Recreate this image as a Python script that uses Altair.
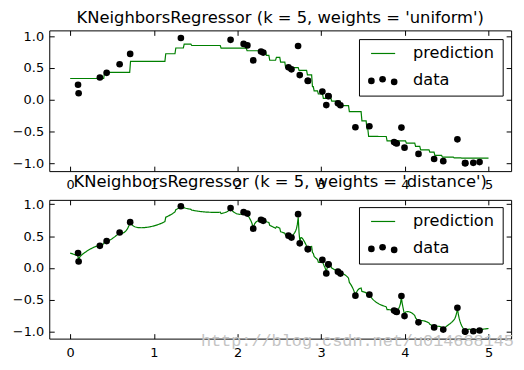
import altair as alt
import numpy as np
import pandas as pd

# data points
X = [0.094, 0.101, 0.355, 0.436, 0.591, 0.717, 1.323, 1.917, 2.073, 2.118,
     2.188, 2.281, 2.307, 2.609, 2.645, 2.724, 2.744, 2.840, 2.842, 3.014,
     3.061, 3.085, 3.088, 3.200, 3.230, 3.409, 3.576, 3.871, 3.891, 3.903,
     3.959, 3.996, 4.163, 4.350, 4.459, 4.628, 4.719, 4.723, 4.818, 4.893]
Y = [0.234, 0.101, 0.348, 0.422, 0.557, 0.720, 0.970, 0.941, 0.877, 0.854,
     0.618, 0.758, 0.741, 0.508, 0.477, 0.845, 0.387, 0.297, 0.295, 0.127,
     -0.086, 0.057, 0.053, -0.058, -0.088, -0.435, -0.419, -0.668, -0.683, -0.691,
     -0.440, -0.756, -0.854, -0.934, -0.968, -0.625, -1.000, -1.000, -0.994, -0.983]

K = 5
TITLES = ["KNeighborsRegressor (k = 5, weights = 'uniform')",
          "KNeighborsRegressor (k = 5, weights = 'distance')"]
X_TICKS = [0, 1, 2, 3, 4, 5]
Y_TICKS = [-1.0, -0.5, 0.0, 0.5, 1.0]
WATERMARK = "http://blog.csdn.net/u014688145"

# k-nearest-neighbour predictions on a grid
xa = np.array(X)
ya = np.array(Y)
T = np.linspace(0, 5, 500)
pred_u, pred_d = [], []
for t in T:
    d = np.abs(xa - t)
    idx = np.argsort(d, kind="stable")[:K]
    pred_u.append(ya[idx].mean())
    dd = d[idx]
    if np.any(dd == 0):
        pred_d.append(ya[idx][dd == 0].mean())
    else:
        w = 1.0 / dd
        pred_d.append(np.sum(w * ya[idx]) / np.sum(w))

pts = pd.DataFrame({"x": X, "y": Y})
one = pd.DataFrame({"a": [0]})

W = 466
XDOM = [-0.25, 5.27]


def panel(title, pred, ydom, h, toff, ldy, watermark=False):
    line_df = pd.DataFrame({"x": T, "y": pred})
    xs = alt.Scale(domain=XDOM, nice=False, zero=False)
    ys = alt.Scale(domain=ydom, nice=False, zero=False)
    line = alt.Chart(line_df).mark_line(color="#008000", strokeWidth=1.2).encode(
        x=alt.X("x:Q", scale=xs, title=None,
                axis=alt.Axis(values=X_TICKS, format="d", orient="bottom", labelPadding=8)),
        y=alt.Y("y:Q", scale=ys, title=None,
                axis=alt.Axis(values=Y_TICKS, format=".1f", orient="left", labelPadding=5.7)),
    )
    dots = alt.Chart(pts).mark_circle(color="black", opacity=1, size=45).encode(
        x=alt.X("x:Q", scale=xs, title=None,
                axis=alt.Axis(values=X_TICKS, orient="top", labels=False)),
        y=alt.Y("y:Q", scale=ys, title=None,
                axis=alt.Axis(values=Y_TICKS, orient="right", labels=False)),
    )
    layers = [line, dots]
    # legend box
    layers.append(alt.Chart(one).mark_rect(fill="white", stroke="black", strokeWidth=1).encode(
        x=alt.value(313), x2=alt.value(458), y=alt.value(9.3 + ldy), y2=alt.value(66.3 + ldy)))
    layers.append(alt.Chart(one).mark_rule(color="#008000", strokeWidth=1.2).encode(
        x=alt.value(324.7), x2=alt.value(349), y=alt.value(23.3 + ldy)))
    for dx, dy in [(325, 51), (336.3, 49.3), (348, 52)]:
        layers.append(alt.Chart(one).mark_circle(color="black", opacity=1, size=45).encode(
            x=alt.value(dx), y=alt.value(dy + ldy)))
    for txt, ty in [("prediction", 23.3), ("data", 50)]:
        layers.append(alt.Chart(one).mark_text(
            text=txt, align="left", baseline="middle", font="DejaVu Sans",
            fontSize=16.3, color="black").encode(x=alt.value(367), y=alt.value(ty + ldy)))
    if watermark:
        layers.append(alt.Chart(one).mark_text(
            text=WATERMARK, align="left", baseline="alphabetic", font="Liberation Mono",
            fontSize=17, color="#c4c4c4").encode(x=alt.value(153), y=alt.value(147)))
    return alt.layer(*layers).resolve_scale(x="independent", y="independent").resolve_axis(
        x="independent", y="independent").properties(
        width=W, height=h,
        title=alt.TitleParams(title, fontSize=16.5, font="DejaVu Sans", fontWeight="normal",
                              color="black", offset=toff, anchor="middle"))


top = panel(TITLES[0], pred_u, [-1.125, 1.09], 142, 3, 0)
bottom = panel(TITLES[1], pred_d, [-1.11, 1.07], 140, 8, -1.5, watermark=True)

chart = alt.vconcat(top, bottom, spacing=29, bounds="flush").properties(
    padding={"left": 11.7, "top": 8, "right": 9, "bottom": 8},
    background="white",
).configure_view(stroke="black", strokeWidth=1).configure_axis(
    grid=False, domain=False, ticks=True, tickColor="black", tickSize=5, tickWidth=1,
    offset=-5, labelFont="DejaVu Sans", labelFontSize=13, labelColor="black",
)

chart.save("out.html", embed_options={"renderer": "svg", "actions": False})
